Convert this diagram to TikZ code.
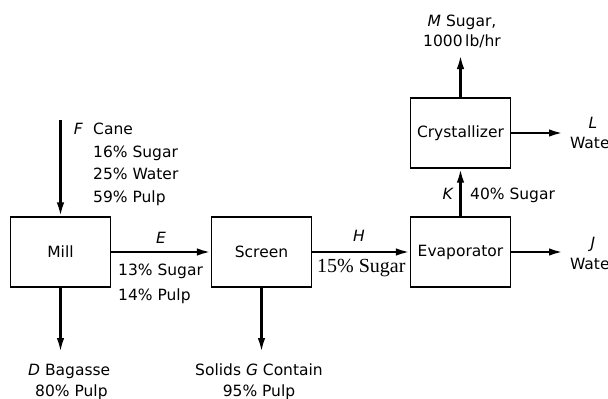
\documentclass[tikz,border=0pt]{standalone}
\usepackage{fontspec}
\setmainfont{DejaVu Sans}
\newfontfamily\serifnums{Liberation Serif}
\usetikzlibrary{arrows.meta,calc,positioning}

\begin{document}
\begin{tikzpicture}[x=1pt,y=-1pt,>={Latex[length=14pt,width=7.5pt]},
  unit/.style={draw,line width=1.2pt,minimum width=100pt,minimum height=70pt,inner sep=0pt,font=\fontsize{15.5}{18}\selectfont},
  flow/.style={->,line width=2.4pt},
  lbl/.style={inner sep=0pt,font=\fontsize{15.5}{22.5}\selectfont}]
\useasboundingbox (0,0) rectangle (608,399);
\node[unit] (mill) at (60.5,252) {Mill};
\node[unit] (screen) at (261.5,252) {Screen};
\node[unit] (evap) at (460.5,252) {Evaporator};
\node[unit] (cryst) at (460.5,133) {Crystallizer};
\coordinate (fin) at (60.5,120);
\coordinate (dout) at (60.5,352);
\coordinate (gout) at (261.5,352);
\coordinate (mout) at (460.5,55);
\coordinate (lout) at (563,133);
\coordinate (jout) at (563,252);
\draw[flow] (fin) -- (mill.north);
\draw[flow] (mill) -- (screen);
\draw[flow] (screen) -- (evap);
\draw[flow] (mill.south) -- (dout);
\draw[flow] (screen.south) -- (gout);
\draw[flow] (evap) -- (cryst);
\draw[flow] (cryst.north) -- (mout);
\draw[flow] (cryst) -- (lout);
\draw[flow] (evap) -- (jout);
\node[lbl,anchor=base west,align=left] (feed) at (93,202) {Cane\\16\% Sugar\\25\% Water\\59\% Pulp};
\node[lbl,anchor=base east] (flab) at (83,134.5) {\itshape F};
\node[lbl,anchor=base] (elab) at (161,243) {\itshape E};
\node[lbl,anchor=base west,align=left,font=\fontsize{15.5}{25}\selectfont] (ecomp) at (118,300) {13\% Sugar\\14\% Pulp};
\node[lbl,anchor=base] (hlab) at (359,241) {\itshape H};
\node[inner sep=0pt,anchor=base west,font=\serifnums\fontsize{20}{22}\selectfont] (hcomp) at (317,272) {15\% Sugar};
\node[lbl,anchor=base west,align=left,font=\fontsize{15.5}{21}\selectfont] (dcomp) at (28,396) {{\itshape D} Bagasse\\\hspace*{7pt}80\% Pulp};
\node[lbl,anchor=base,align=center,font=\fontsize{15.5}{21}\selectfont] (gcomp) at (259,396) {Solids {\itshape G} Contain\\95\% Pulp};
\node[lbl,anchor=base east] (klab) at (453,199) {\itshape K};
\node[lbl,anchor=base west] (kcomp) at (470,199) {40\% Sugar};
\node[lbl,anchor=base,align=center,font=\fontsize{15.5}{20}\selectfont] (mlab) at (462,46) {{\itshape M} Sugar,\\1000\,lb/hr};
\node[lbl,anchor=base,align=center,font=\fontsize{15.5}{20}\selectfont] (llab) at (593,148) {{\itshape L}\\Water};
\node[lbl,anchor=base,align=center,font=\fontsize{15.5}{21}\selectfont] (jlab) at (593,269) {{\itshape J}\\Water};
\end{tikzpicture}
\end{document}
